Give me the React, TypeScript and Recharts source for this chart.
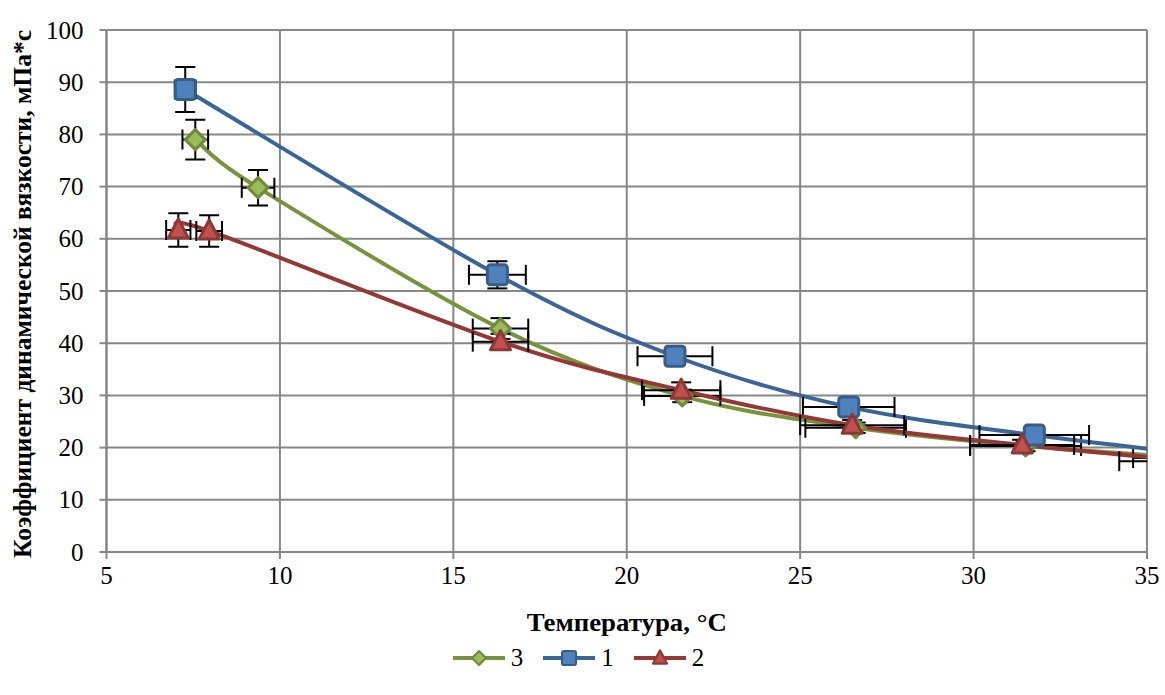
import React from "react";
import {
  ComposedChart,
  Line,
  Scatter,
  XAxis,
  YAxis,
  CartesianGrid,
  ErrorBar,
  Legend,
  Label,
} from "recharts";

const FONT = "'Liberation Serif', 'Times New Roman', serif";

const xTicks = [5, 10, 15, 20, 25, 30, 35];
const yTicks = [0, 10, 20, 30, 40, 50, 60, 70, 80, 90, 100];

// series "1" (blue squares)
const s1Temp = [7.27, 16.27, 21.39, 26.4, 31.75, 37.0];
const s1Visc = [88.6, 53.1, 37.5, 27.8, 22.4, 18.3];
const s1TempErr = [0.3, 0.82, 1.08, 1.32, 1.58, 1.7];
const s1ViscErr = [4.3, 2.6, 1.0, 1.0, 1.0, 1.0];

// series "2" (red triangles)
const s2Temp = [7.07, 7.96, 16.36, 21.57, 26.5, 31.4, 36.3];
const s2Visc = [61.7, 61.5, 40.3, 31.0, 24.3, 20.5, 17.4];
const s2TempErr = [0.35, 0.37, 0.8, 1.13, 1.5, 1.5, 2.1];
const s2ViscErr = [3.2, 3.0, 1.5, 1.5, 1.0, 1.0, 1.0];

// series "3" (green diamonds)
const s3Temp = [7.56, 9.37, 16.36, 21.6, 26.6, 31.5, 36.3];
const s3Visc = [79.0, 69.8, 42.8, 29.9, 23.8, 20.3, 18.0];
const s3TempErr = [0.37, 0.47, 0.8, 1.1, 1.45, 1.6, 1.7];
const s3ViscErr = [3.8, 3.4, 2.0, 1.2, 1.0, 1.0, 1.0];

const build = (xs: number[], ys: number[], xe: number[], ye: number[]) =>
  xs.map((x, i) => ({ x, y: ys[i], xe: xe[i], ye: ye[i] }));

const blueData = build(s1Temp, s1Visc, s1TempErr, s1ViscErr);
const redData = build(s2Temp, s2Visc, s2TempErr, s2ViscErr);
const greenData = build(s3Temp, s3Visc, s3TempErr, s3ViscErr);

const BLUE = { line: "#3B6597", fill: "#4F81BD", border: "#385D8A" };
const RED = { line: "#953735", fill: "#C0504D", border: "#8C3836" };
const GREEN = { line: "#77933C", fill: "#9BBB59", border: "#71893F" };

const W = 1165;
const H = 695;
const MARGIN = { top: 30, right: 18, bottom: 20, left: 10 };
const Y_AXIS_W = 96.5;
const X_AXIS_H = 89;
const LEGEND_H = 34;
const plotX = MARGIN.left + Y_AXIS_W;
const plotY = MARGIN.top;
const plotW = W - MARGIN.right - plotX;
const plotH = H - MARGIN.bottom - LEGEND_H - X_AXIS_H - plotY;

// smoothed line like the spreadsheet one (bezier, catmull-rom style handles)
const smoothCurve = (context: any) => {
  let pts: number[][] = [];
  return {
    areaStart() {},
    areaEnd() {},
    lineStart() {
      pts = [];
    },
    point(x: number, y: number) {
      pts.push([+x, +y]);
    },
    lineEnd() {
      if (!pts.length) return;
      context.moveTo(pts[0][0], pts[0][1]);
      for (let i = 0; i < pts.length - 1; i++) {
        const p0 = pts[i - 1] || pts[i];
        const p1 = pts[i];
        const p2 = pts[i + 1];
        const p3 = pts[i + 2] || p2;
        context.bezierCurveTo(
          p1[0] + (p2[0] - p0[0]) / 6,
          p1[1] + (p2[1] - p0[1]) / 6,
          p2[0] - (p3[0] - p1[0]) / 6,
          p2[1] - (p3[1] - p1[1]) / 6,
          p2[0],
          p2[1]
        );
      }
    },
  };
};

const Square = ({ cx, cy }: any) => (
  <rect x={cx - 10} y={cy - 10} width={20} height={20} rx={3} fill={BLUE.fill} stroke={BLUE.border} strokeWidth={3} />
);
const Diamond = ({ cx, cy }: any) => (
  <path
    d={`M${cx},${cy - 10} L${cx + 10},${cy} L${cx},${cy + 10} L${cx - 10},${cy} Z`}
    fill={GREEN.fill}
    stroke={GREEN.border}
    strokeWidth={3}
    strokeLinejoin="round"
  />
);
const Triangle = ({ cx, cy }: any) => (
  <path
    d={`M${cx},${cy - 11} L${cx + 10},${cy + 8} L${cx - 10},${cy + 8} Z`}
    fill={RED.fill}
    stroke={RED.border}
    strokeWidth={3}
    strokeLinejoin="round"
  />
);

const legendItems = [
  { name: "3", c: GREEN, Mark: Diamond },
  { name: "1", c: BLUE, Mark: Square },
  { name: "2", c: RED, Mark: Triangle },
];

const LegendContent = () => (
  <div style={{ display: "flex", justifyContent: "center", alignItems: "center", height: LEGEND_H }}>
    {legendItems.map(({ name, c, Mark }) => (
      <div key={name} style={{ display: "flex", alignItems: "center", margin: "0 10px" }}>
        <svg width={52} height={24}>
          <line x1={0} y1={12} x2={52} y2={12} stroke={c.line} strokeWidth={4} />
          <g transform="translate(26,12) scale(0.7) translate(-26,-12)">
            <Mark cx={26} cy={12} />
          </g>
        </svg>
        <span style={{ fontFamily: FONT, fontSize: 25, marginLeft: 6 }}>{name}</span>
      </div>
    ))}
  </div>
);

const YTitle = ({ viewBox }: any) => {
  const x = viewBox.x + 12;
  const y = viewBox.y + viewBox.height / 2 + 3;
  return (
    <text
      x={x}
      y={y}
      transform={`rotate(-90, ${x}, ${y})`}
      textAnchor="middle"
      dominantBaseline="central"
      fontFamily={FONT}
      fontWeight="bold"
      fontSize={25}
      textLength={528}
      lengthAdjust="spacingAndGlyphs"
      fill="#000"
    >
      Коэффициент динамической вязкости, мПа*с
    </text>
  );
};

const XTitle = ({ viewBox }: any) => (
  <text
    x={viewBox.x + viewBox.width / 2}
    y={viewBox.y + 79}
    textAnchor="middle"
    fontFamily={FONT}
    fontWeight="bold"
    fontSize={26}
    textLength={200}
    lengthAdjust="spacingAndGlyphs"
    fill="#000"
  >
    Температура, °C
  </text>
);

// y tick labels sit a little away from the axis, right-aligned
const YTick = ({ y, payload }: any) => (
  <text
    x={plotX - 23}
    y={y}
    textAnchor="end"
    dominantBaseline="central"
    fontFamily={FONT}
    fontSize={25}
    fill="#000"
  >
    {payload.value}
  </text>
);

const xTickStyle = { fill: "#000", fontSize: 25, fontFamily: FONT };

export default function App() {
  return (
    <div style={{ position: "absolute", left: 0, top: 0, background: "#fff" }}>
      <svg width={0} height={0} style={{ position: "absolute" }}>
        <defs>
          <clipPath id="plotClip">
            <rect x={plotX} y={plotY} width={plotW} height={plotH} />
          </clipPath>
        </defs>
      </svg>
      <style>{`.recharts-errorBars, .recharts-errorBar { clip-path: url(#plotClip); }`}</style>
      <ComposedChart width={W} height={H} margin={MARGIN}>
        <CartesianGrid stroke="#878787" strokeWidth={2} />
        <XAxis
          type="number"
          dataKey="x"
          domain={[5, 35]}
          ticks={xTicks}
          allowDataOverflow
          height={X_AXIS_H}
          tick={xTickStyle}
          tickSize={7}
          tickMargin={7}
          stroke="#878787"
          strokeWidth={2}
        >
          <Label content={<XTitle />} />
        </XAxis>
        <YAxis
          type="number"
          domain={[0, 100]}
          ticks={yTicks}
          allowDataOverflow
          width={Y_AXIS_W}
          tick={<YTick />}
          tickSize={7}
          stroke="#878787"
          strokeWidth={2}
        >
          <Label content={<YTitle />} />
        </YAxis>
        <Legend verticalAlign="bottom" height={LEGEND_H} content={<LegendContent />} />

        <Line data={greenData} dataKey="y" type={smoothCurve as any} stroke={GREEN.line} strokeWidth={4} dot={false} isAnimationActive={false} legendType="none" />
        <Scatter data={greenData} dataKey="y" shape={<Diamond />} isAnimationActive={false}>
          <ErrorBar dataKey="xe" direction="x" width={10} stroke="#000" strokeWidth={2} />
          <ErrorBar dataKey="ye" direction="y" width={10} stroke="#000" strokeWidth={2} />
        </Scatter>

        <Line data={blueData} dataKey="y" type={smoothCurve as any} stroke={BLUE.line} strokeWidth={4} dot={false} isAnimationActive={false} legendType="none" />
        <Scatter data={blueData} dataKey="y" shape={<Square />} isAnimationActive={false}>
          <ErrorBar dataKey="xe" direction="x" width={10} stroke="#000" strokeWidth={2} />
          <ErrorBar dataKey="ye" direction="y" width={10} stroke="#000" strokeWidth={2} />
        </Scatter>

        <Line data={redData} dataKey="y" type={smoothCurve as any} stroke={RED.line} strokeWidth={4} dot={false} isAnimationActive={false} legendType="none" />
        <Scatter data={redData} dataKey="y" shape={<Triangle />} isAnimationActive={false}>
          <ErrorBar dataKey="xe" direction="x" width={10} stroke="#000" strokeWidth={2} />
          <ErrorBar dataKey="ye" direction="y" width={10} stroke="#000" strokeWidth={2} />
        </Scatter>
      </ComposedChart>
    </div>
  );
}
